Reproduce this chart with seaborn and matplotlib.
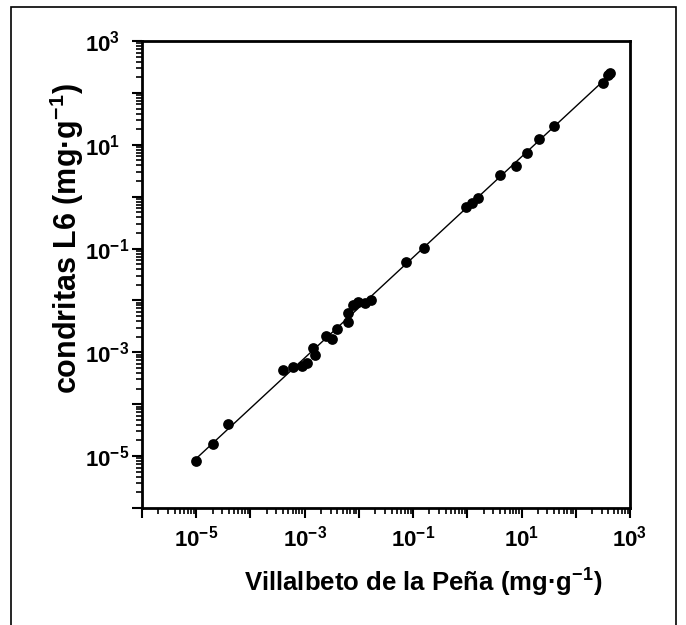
import numpy as np
import pandas as pd
import matplotlib
matplotlib.use("Agg")
import matplotlib.pyplot as plt
import matplotlib.ticker as mticker
from matplotlib.patches import Rectangle
import seaborn as sns

# Data (mg·g-1)
villalbeto = [1.0e-5, 2.0e-5, 3.9e-5, 4.0e-4, 6.2e-4, 8.8e-4, 1.1e-3, 1.45e-3, 1.55e-3,
              2.5e-3, 3.2e-3, 3.9e-3, 6.4e-3, 6.4e-3, 7.9e-3, 9.8e-3, 1.3e-2, 1.7e-2,
              7.4e-2, 0.16, 0.95, 1.2, 1.6, 4.0, 7.9, 12.5, 21.0, 40.0, 324.0, 400.0, 420.0]
condritas = [8.1e-6, 1.7e-5, 4.2e-5, 4.6e-4, 5.3e-4, 5.5e-4, 6.3e-4, 1.2e-3, 8.9e-4,
             2.1e-3, 1.8e-3, 2.8e-3, 3.9e-3, 5.8e-3, 8.2e-3, 9.5e-3, 8.9e-3, 1.0e-2,
             5.6e-2, 0.104, 0.64, 0.75, 0.93, 2.6, 3.9, 7.0, 12.9, 23.0, 153.0, 221.0, 240.0]
xlabel = "Villalbeto de la Peña (mg·g$^{\\mathbf{-1}}$)"
ylabel = "condritas L6 (mg·g$^{\\mathbf{-1}}$)"

df = pd.DataFrame({"x": villalbeto, "y": condritas})

# log-log linear fit
slope, intercept = np.polyfit(np.log10(df["x"]), np.log10(df["y"]), 1)
xf = np.logspace(np.log10(df["x"].min()), np.log10(df["x"].max()), 50)
fit = pd.DataFrame({"x": xf, "y": 10 ** (intercept + slope * np.log10(xf))})

sns.set_theme(style="ticks")
plt.rcParams["font.family"] = ["Liberation Sans", "DejaVu Sans"]
plt.rcParams["mathtext.fontset"] = "custom"
plt.rcParams["mathtext.rm"] = "Liberation Sans"
plt.rcParams["mathtext.bf"] = "Liberation Sans:bold"
plt.rcParams["mathtext.it"] = "Liberation Sans:italic"
plt.rcParams["axes.unicode_minus"] = False
plt.rcParams["text.color"] = "black"
plt.rcParams["axes.labelcolor"] = "black"
plt.rcParams["xtick.color"] = "black"
plt.rcParams["ytick.color"] = "black"

fig = plt.figure(figsize=(6.86, 6.25), dpi=100)
ax = fig.add_axes([142 / 686, 1 - 508 / 625, 488 / 686, 467 / 625])

sns.lineplot(data=fit, x="x", y="y", ax=ax, color="black", linewidth=1.0, zorder=2)
sns.scatterplot(data=df, x="x", y="y", ax=ax, color="black", s=60, edgecolor="black",
                linewidth=0, zorder=3)

ax.set_xscale("log")
ax.set_yscale("log")
ax.set_xlim(1e-6, 1e3)
ax.set_ylim(1e-6, 1e3)

def fmt(v, pos):
    e = int(round(np.log10(v)))
    if e % 2 != 0:
        return r"$\mathbf{10^{%d}}$" % e
    return ""

for axis in (ax.xaxis, ax.yaxis):
    axis.set_major_locator(mticker.LogLocator(base=10, numticks=20))
    axis.set_minor_locator(mticker.LogLocator(base=10, subs=np.arange(2, 10), numticks=20))
    axis.set_major_formatter(mticker.FuncFormatter(fmt))
    axis.set_minor_formatter(mticker.NullFormatter())

ax.tick_params(which="major", direction="out", length=7, width=1.5, labelsize=16,
               colors="black", labelcolor="black")
ax.tick_params(which="minor", direction="out", length=4, width=1.2, colors="black")
ax.tick_params(axis="x", which="major", pad=6)
ax.tick_params(axis="y", which="major", pad=34)
for lab in ax.get_yticklabels():
    lab.set_horizontalalignment("left")

for sp in ax.spines.values():
    sp.set_visible(True)
    sp.set_linewidth(2)
    sp.set_color("black")

ax.set_xlabel(xlabel, fontsize=18.5, fontweight="bold", color="black")
ax.set_ylabel(ylabel, fontsize=22, fontweight="bold", color="black")
ax.xaxis.set_label_coords(0.577, -0.125)
ax.yaxis.set_label_coords(-0.155, 0.576)
ax.yaxis.label.set_verticalalignment("center")

fig.patches.append(Rectangle((11 / 686, -0.1), (676 - 11) / 686, 1.1 - 7 / 625,
                             transform=fig.transFigure, fill=False, lw=1.2,
                             edgecolor="black"))

fig.savefig("out.png", dpi=100)
